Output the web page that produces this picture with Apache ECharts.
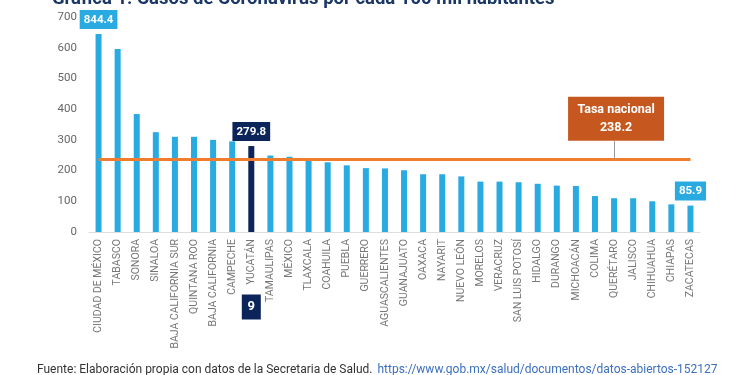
<!DOCTYPE html>
<html>
<head>
<meta charset="utf-8">
<script src="https://cdn.jsdelivr.net/npm/echarts@6/dist/echarts.min.js"></script>
<style>
  html, body { margin: 0; padding: 0; background: #fff; }
  #chart { width: 750px; height: 375px; }
</style>
</head>
<body>
<div id="chart"></div>
<script>
// estados, ordenados de mayor a menor tasa
const estados = [
  "CIUDAD DE MÉXICO", "TABASCO", "SONORA", "SINALOA", "BAJA CALIFORNIA SUR",
  "QUINTANA ROO", "BAJA CALIFORNIA", "CAMPECHE", "YUCATÁN", "TAMAULIPAS",
  "MÉXICO", "TLAXCALA", "COAHUILA", "PUEBLA", "GUERRERO", "AGUASCALIENTES",
  "GUANAJUATO", "OAXACA", "NAYARIT", "NUEVO LEÓN", "MORELOS", "VERACRUZ",
  "SAN LUIS POTOSÍ", "HIDALGO", "DURANGO", "MICHOACÁN", "COLIMA", "QUERÉTARO",
  "JALISCO", "CHIHUAHUA", "CHIAPAS", "ZACATECAS"
];
// casos por cada 100 mil habitantes
const tasas = [
  844.4, 596, 384, 325, 310, 310, 300, 295, 279.8, 249,
  245, 238, 227, 217, 208, 207, 201, 188, 188, 181,
  164, 164, 162, 157, 151, 150, 117, 110, 110, 100,
  90, 85.9
];
const yTicks = [0, 100, 200, 300, 400, 500, 600, 700];
const tasaNacional = 238.2;
const lugarYucatan = "9";
// en el original la barra de CDMX se dibuja recortada
const barraMax = 645;
const etiquetados = ["CIUDAD DE MÉXICO", "YUCATÁN", "ZACATECAS"];

const azul = "#29abe2";
const marino = "#0b2459";
const naranja = "#f07c2e";
const naranjaCaja = "#c6581f";

const myChart = echarts.init(document.getElementById("chart"));

const barData = tasas.map((v, i) => {
  const esYuc = estados[i] === "YUCATÁN";
  const color = esYuc ? marino : azul;
  const item = {
    value: Math.min(v, barraMax),
    itemStyle: { color: color },
  };
  if (etiquetados.includes(estados[i])) {
    item.label = {
      show: true,
      position: "top",
      distance: 5,
      formatter: String(v),
      color: "#fff",
      fontWeight: "bold",
      fontSize: 11.5,
      fontFamily: "Roboto",
      backgroundColor: color,
      padding: [4, 4, 3, 4],
    };
  }
  return item;
});

const idxYuc = estados.indexOf("YUCATÁN");

const options = {
  animation: false,
  title: [
    {
      text: "Gráfica 1. Casos de Coronavirus por cada 100 mil habitantes",
      left: 52,
      top: -10,
      padding: 0,
      textStyle: {
        color: "#1b3766",
        fontSize: 18.5,
        fontWeight: "bold",
        fontFamily: "Roboto",
      },
    },
    {
      text: "{a|Fuente: Elaboración propia con datos de la Secretaria de Salud.} {b|https://www.gob.mx/salud/documentos/datos-abiertos-152127}",
      left: 37,
      top: 361,
      padding: 0,
      textStyle: {
        fontWeight: "normal",
        rich: {
          a: { color: "#333", fontSize: 12, fontWeight: "normal", fontFamily: "Roboto" },
          b: { color: "#3b6fc0", fontSize: 12, fontWeight: "normal", fontFamily: "Roboto" },
        },
      },
    },
  ],
  grid: {
    left: 89,
    right: 50,
    top: 17,
    bottom: 143,
  },
  xAxis: {
    type: "category",
    data: estados,
    axisTick: { show: false },
    axisLine: { lineStyle: { color: "#ddd", width: 1 } },
    axisLabel: {
      interval: 0,
      rotate: 90,
      margin: 7,
      color: "#777",
      fontSize: 10.5,
      fontFamily: "Roboto",
    },
  },
  yAxis: {
    type: "value",
    min: yTicks[0],
    max: yTicks[yTicks.length - 1],
    interval: 100,
    splitLine: { show: false },
    axisLine: { show: false },
    axisTick: { show: false },
    axisLabel: {
      color: "#666",
      fontSize: 11.5,
      fontFamily: "Roboto",
      margin: 12,
    },
  },
  series: [
    {
      type: "bar",
      data: barData,
      barWidth: 6,
      markLine: {
        silent: true,
        symbol: "none",
        label: { show: false },
        data: [
          [
            { coord: [0, tasaNacional], lineStyle: { color: naranja, width: 3, type: "solid" } },
            { coord: [estados.length - 1, tasaNacional] },
          ],
          [
            { coord: [27, tasaNacional], lineStyle: { color: "#999", width: 1, type: "solid" } },
            { coord: [27, 296] },
          ],
        ],
      },
      markPoint: {
        silent: true,
        data: [
          {
            coord: [27, tasaNacional],
            symbol: "rect",
            symbolSize: [96, 44],
            symbolOffset: [2, -40],
            itemStyle: { color: naranjaCaja },
            label: {
              show: true,
              position: "inside",
              formatter: "Tasa nacional\n" + tasaNacional,
              color: "#fff",
              fontWeight: "bold",
              fontSize: 12.5,
              lineHeight: 18,
              fontFamily: "Roboto",
            },
          },
          {
            coord: [idxYuc, 0],
            symbol: "rect",
            symbolSize: [19, 25],
            symbolOffset: [0, 75],
            itemStyle: { color: marino },
            label: {
              show: true,
              position: "inside",
              formatter: lugarYucatan,
              color: "#fff",
              fontWeight: "bold",
              fontSize: 13,
              fontFamily: "Roboto",
            },
          },
        ],
      },
    },
  ],
};

myChart.setOption(options);
</script>
</body>
</html>
